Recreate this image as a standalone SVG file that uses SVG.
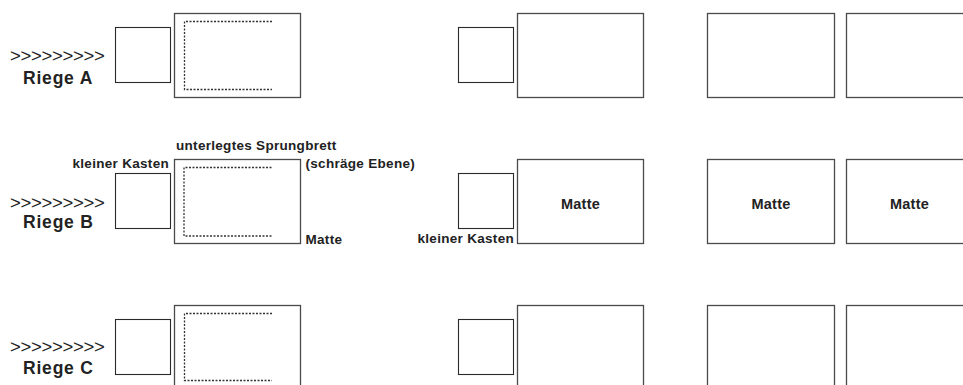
<svg xmlns="http://www.w3.org/2000/svg" width="963" height="385" viewBox="0 0 963 385">
<style>
  .bg{fill:#ffffff}
  .small{fill:#ffffff;stroke:#2a2a2a;stroke-width:1.1}
  .big{fill:#ffffff;stroke:#4a4a4a;stroke-width:1.3}
  .dot{fill:none;stroke:#333;stroke-width:1.3;stroke-dasharray:2 1.5}
  .arr{font-family:"Liberation Sans",Arial,sans-serif;font-size:18.5px;letter-spacing:-0.3px;fill:#222}
  .riege{font-family:"Liberation Sans",Arial,sans-serif;font-size:17.5px;font-weight:bold;letter-spacing:0.8px;fill:#222}
  .lbl{font-family:"Liberation Sans",Arial,sans-serif;font-size:13.5px;font-weight:bold;letter-spacing:0.3px;fill:#222}
  .mat{font-family:"Liberation Sans",Arial,sans-serif;font-size:14.5px;font-weight:bold;letter-spacing:0.2px;fill:#222;text-anchor:middle}
  .end{text-anchor:end}
</style>
<rect class="bg" x="0" y="0" width="963" height="385"/>

<!-- Riege A -->
<g id="riegeA-label">
  <text class="arr" x="10" y="62.3">&gt;&gt;&gt;&gt;&gt;&gt;&gt;&gt;&gt;</text>
  <text class="riege" x="23" y="83.5">Riege A</text>
</g>
<g id="A-kasten1"><rect class="small" x="115.5" y="27.5" width="55" height="55"/></g>
<g id="A-matte1">
  <rect class="big" x="174.5" y="13.5" width="126" height="84"/>
  <path class="dot" d="M272,21.5 H184.5 V89.5 H272"/>
</g>
<g id="A-kasten2"><rect class="small" x="458.5" y="27.5" width="55" height="55"/></g>
<g id="A-matte2"><rect class="big" x="517.5" y="13.5" width="126" height="84"/></g>
<g id="A-matte3"><rect class="big" x="707.5" y="13.5" width="127" height="84"/></g>
<g id="A-matte4"><rect class="big" x="846.5" y="13.5" width="127" height="84"/></g>

<!-- Riege B -->
<g id="riegeB-label">
  <text class="arr" x="10" y="208.5">&gt;&gt;&gt;&gt;&gt;&gt;&gt;&gt;&gt;</text>
  <text class="riege" x="23" y="228">Riege B</text>
</g>
<g id="B-kasten1">
  <rect class="small" x="115.5" y="173.5" width="55" height="55"/>
  <text class="lbl end" x="169" y="167.5">kleiner Kasten</text>
</g>
<g id="B-matte1">
  <rect class="big" x="174.5" y="159.5" width="126" height="84"/>
  <path class="dot" d="M271.5,167.5 H184 V236 H271.5"/>
  <text class="lbl" x="176" y="150">unterlegtes Sprungbrett</text>
  <text class="lbl" x="305.5" y="167.5">(schräge Ebene)</text>
  <text class="lbl" x="305.5" y="243.5">Matte</text>
</g>
<g id="B-kasten2">
  <rect class="small" x="458.5" y="173.5" width="55" height="55"/>
  <text class="lbl end" x="514" y="242.5">kleiner Kasten</text>
</g>
<g id="B-matte2">
  <rect class="big" x="517.5" y="159.5" width="126" height="84"/>
  <text class="mat" x="580.5" y="208.5">Matte</text>
</g>
<g id="B-matte3">
  <rect class="big" x="707.5" y="159.5" width="127" height="84"/>
  <text class="mat" x="771" y="208.5">Matte</text>
</g>
<g id="B-matte4">
  <rect class="big" x="846.5" y="159.5" width="127" height="84"/>
  <text class="mat" x="909.5" y="208.5">Matte</text>
</g>

<!-- Riege C -->
<g id="riegeC-label">
  <text class="arr" x="10" y="353">&gt;&gt;&gt;&gt;&gt;&gt;&gt;&gt;&gt;</text>
  <text class="riege" x="23" y="373.5">Riege C</text>
</g>
<g id="C-kasten1"><rect class="small" x="115.5" y="319.5" width="55" height="55"/></g>
<g id="C-matte1">
  <rect class="big" x="174.5" y="305.5" width="126" height="84"/>
  <path class="dot" d="M272,313.5 H184.5 V380.5 H272"/>
</g>
<g id="C-kasten2"><rect class="small" x="458.5" y="319.5" width="55" height="55"/></g>
<g id="C-matte2"><rect class="big" x="517.5" y="305.5" width="126" height="84"/></g>
<g id="C-matte3"><rect class="big" x="707.5" y="305.5" width="127" height="84"/></g>
<g id="C-matte4"><rect class="big" x="846.5" y="305.5" width="127" height="84"/></g>

<g id="connectors"></g>
</svg>
